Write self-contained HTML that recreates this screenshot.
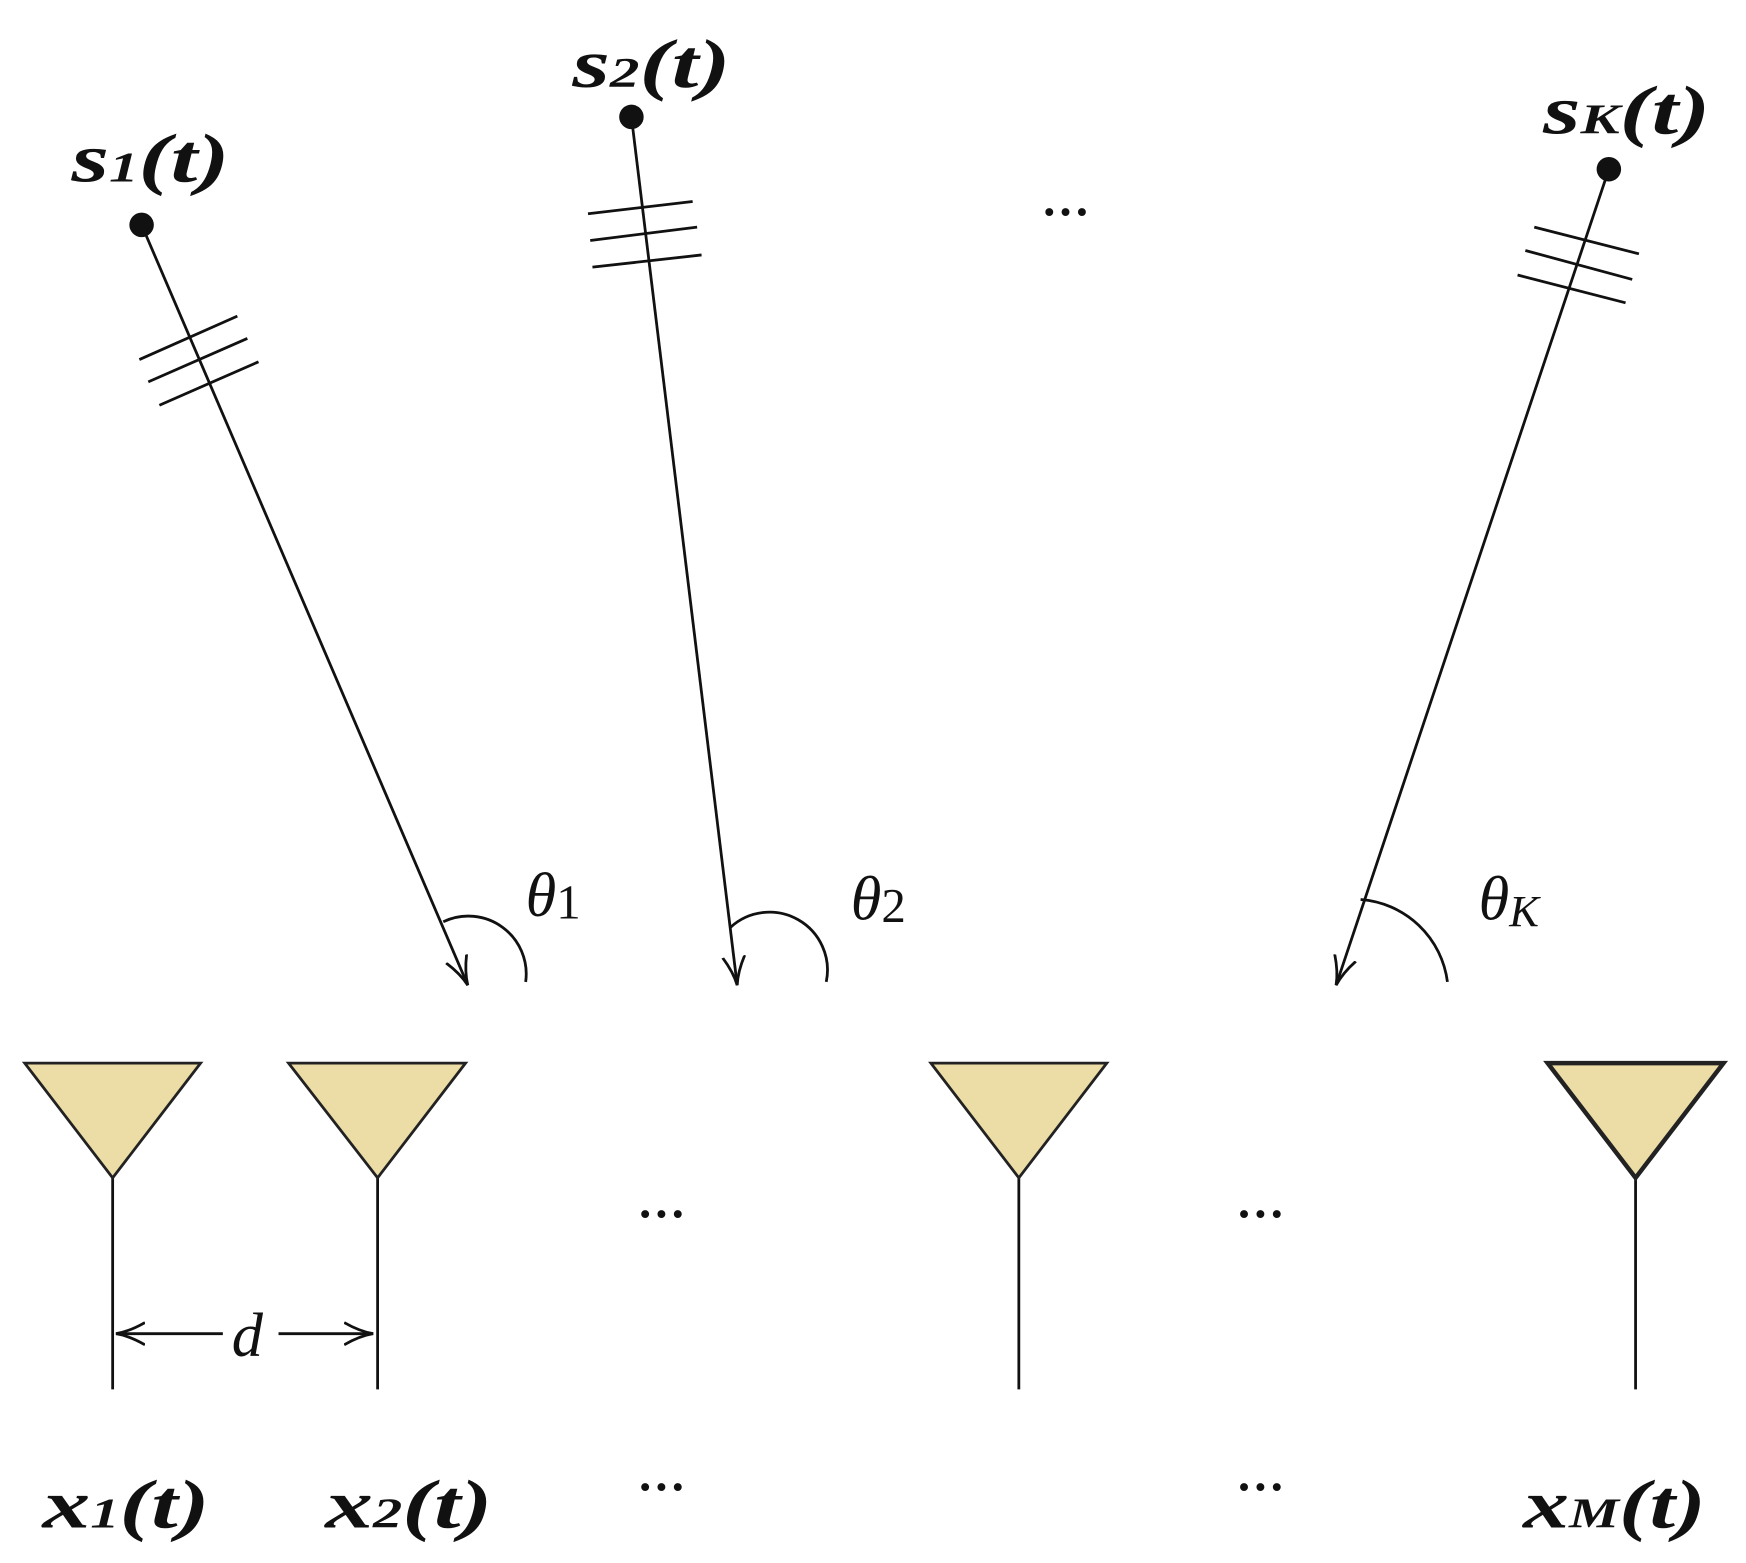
<!DOCTYPE html>
<html><head><style>
html,body{margin:0;padding:0;background:#fff;}
svg{display:block;}
.lb{font-family:"Liberation Serif",serif;font-style:italic;font-weight:bold;fill:#111;}
.th{font-family:"Liberation Serif",serif;font-style:italic;fill:#111;}
</style></head><body>
<svg width="1746" height="1563" viewBox="0 0 1568 1404" xmlns="http://www.w3.org/2000/svg">
<defs>
<marker id="ah2" markerWidth="30" markerHeight="24" refX="26" refY="12" orient="auto" markerUnits="userSpaceOnUse">
<path d="M0,2 Q14,10 26,12 Q14,14 0,22" fill="none" stroke="#111" stroke-width="2.5"/>
</marker>
</defs>
<g stroke="#111" stroke-width="2.5" fill="none">
<line x1="127" y1="202" x2="420" y2="885" marker-end="url(#ah2)"/>
<line x1="567" y1="105" x2="662" y2="885" marker-end="url(#ah2)"/>
<line x1="1445" y1="152" x2="1200" y2="885" marker-end="url(#ah2)"/>
<line x1="125" y1="323" x2="213" y2="284"/>
<line x1="133" y1="343" x2="222" y2="304"/>
<line x1="143" y1="364" x2="232" y2="325"/>
<line x1="528" y1="192" x2="622" y2="181"/>
<line x1="530" y1="216" x2="626" y2="204"/>
<line x1="532" y1="240" x2="630" y2="229"/>
<line x1="1378" y1="204" x2="1472" y2="228"/>
<line x1="1370" y1="225" x2="1466" y2="251"/>
<line x1="1363" y1="247" x2="1460" y2="272"/>
<path d="M398,828 A52,52 0 0 1 472,882"/>
<path d="M656,833 A52,52 0 0 1 742,882"/>
<path d="M1222,808 A85,85 0 0 1 1300,882"/>
<line x1="101" y1="1058" x2="101" y2="1248"/>
<line x1="339" y1="1058" x2="339" y2="1248"/>
<line x1="915" y1="1058" x2="915" y2="1248"/>
<line x1="1469" y1="1058" x2="1469" y2="1248"/>
<line x1="200" y1="1198" x2="104" y2="1198" marker-end="url(#ah2)"/>
<line x1="250" y1="1198" x2="335" y2="1198" marker-end="url(#ah2)"/>
</g>
<g fill="#ecdca6" stroke="#222" stroke-width="2.5">
<polygon points="22,955 180,955 101,1058"/>
<polygon points="259,955 418,955 339,1058"/>
<polygon points="836,955 994,955 915,1058"/>
<polygon points="1390,955 1548,955 1469,1058" stroke-width="4"/>
</g>
<g fill="#111">
<circle cx="127" cy="202" r="11"/>
<circle cx="567" cy="105" r="11"/>
<circle cx="1445" cy="152" r="11"/>
</g>
<g class="lb" font-size="62">
<text x="64" y="163" textLength="142" lengthAdjust="spacingAndGlyphs">s<tspan font-size="38">1</tspan>(t)</text>
<text x="514" y="78" textLength="142" lengthAdjust="spacingAndGlyphs">s<tspan font-size="38">2</tspan>(t)</text>
<text x="1386" y="120" textLength="150" lengthAdjust="spacingAndGlyphs">s<tspan font-size="38">K</tspan>(t)</text>
<text x="38" y="1372" textLength="150" lengthAdjust="spacingAndGlyphs">x<tspan font-size="38">1</tspan>(t)</text>
<text x="292" y="1372" textLength="150" lengthAdjust="spacingAndGlyphs">x<tspan font-size="38">2</tspan>(t)</text>
<text x="1368" y="1372" textLength="164" lengthAdjust="spacingAndGlyphs">x<tspan font-size="38">M</tspan>(t)</text>
</g>
<g class="th" font-size="56">
<text x="472" y="823">θ<tspan font-style="normal" font-size="44" dy="2">1</tspan></text>
<text x="764" y="826">θ<tspan font-style="normal" font-size="44" dy="2">2</tspan></text>
<text x="1328" y="826">θ<tspan font-size="40" dy="6">K</tspan></text>
<text x="208" y="1218">d</text>
</g>
<g font-family="Liberation Serif,serif" font-size="44" fill="#111" font-weight="bold">
<text x="935" y="205">···</text>
<text x="572" y="1105">···</text>
<text x="1110" y="1105">···</text>
<text x="572" y="1350">···</text>
<text x="1110" y="1350">···</text>
</g>
</svg>
</body></html>
